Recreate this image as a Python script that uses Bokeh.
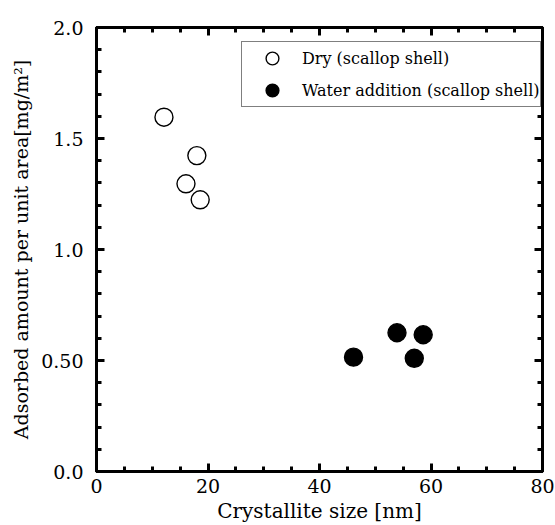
from bokeh.plotting import figure
from bokeh.models import (LinearAxis, SingleIntervalTicker, Range1d, Legend, LegendItem,
                          CustomJSTickFormatter)
from bokeh.embed import file_html
from bokeh.resources import INLINE

# Data
dry_x = [12.1, 18.0, 16.05, 18.6]
dry_y = [1.596, 1.423, 1.296, 1.224]
wet_x = [53.9, 58.6, 46.1, 57.0]
wet_y = [0.625, 0.616, 0.515, 0.510]

x_ticks = [0, 20, 40, 60, 80]
y_ticks = [0.0, 0.5, 1.0, 1.5, 2.0]
y_tick_labels = ["0.0", "0.50", "1.0", "1.5", "2.0"]
series_labels = ["Dry (scallop shell)", "Water addition (scallop shell)"]
x_label = "Crystallite size [nm]"
y_label = "Adsorbed amount per unit area[mg/m\u00b2]"

FONT = "DejaVu Serif"

XMIN, XMAX = float(x_ticks[0]), float(x_ticks[-1])
YMIN, YMAX = float(y_ticks[0]), float(y_ticks[-1])

p = figure(width=555, height=525, x_range=Range1d(XMIN, XMAX), y_range=Range1d(YMIN, YMAX),
           output_backend="svg", toolbar_location=None,
           x_axis_location=None, y_axis_location=None,
           min_border_left=96, min_border_right=13, min_border_top=27, min_border_bottom=54)
p.outline_line_color = "black"
p.outline_line_width = 3
p.xgrid.visible = False
p.ygrid.visible = False
p.background_fill_color = "white"
p.border_fill_color = "white"


def style_axis(ax, labelled):
    ax.axis_line_width = 3
    ax.axis_line_color = "black"
    ax.major_tick_in = 8
    ax.major_tick_out = 0
    ax.minor_tick_in = 5
    ax.minor_tick_out = 0
    ax.major_tick_line_width = 3
    ax.minor_tick_line_width = 3
    ax.major_tick_line_color = "black"
    ax.minor_tick_line_color = "black"
    if labelled:
        ax.major_label_text_font = FONT
        ax.major_label_text_font_size = "19px"
        ax.major_label_text_color = "black"
        ax.axis_label_text_font = FONT
        ax.axis_label_text_font_size = "20px"
        ax.axis_label_text_font_style = "normal"
        ax.axis_label_text_color = "black"
    else:
        ax.formatter = CustomJSTickFormatter(code="return ''")
        ax.major_label_standoff = 0


def x_ticker():
    return SingleIntervalTicker(interval=x_ticks[1] - x_ticks[0], num_minor_ticks=4)


def y_ticker():
    return SingleIntervalTicker(interval=y_ticks[1] - y_ticks[0], num_minor_ticks=5)


xb = LinearAxis(ticker=x_ticker(), axis_label=x_label)
style_axis(xb, True)
xb.major_label_standoff = 7
xb.axis_label_standoff = 3
p.add_layout(xb, "below")

yl = LinearAxis(ticker=y_ticker(), axis_label=y_label)
style_axis(yl, True)
yl.axis_label_text_font_size = "19px"
yl.major_label_standoff = 13
yl.axis_label_standoff = 6
yl.major_label_overrides = {float(t): s for t, s in zip(y_ticks, y_tick_labels)}
p.add_layout(yl, "left")

xt = LinearAxis(ticker=x_ticker())
style_axis(xt, False)
p.add_layout(xt, "above")

yr = LinearAxis(ticker=y_ticker())
style_axis(yr, False)
p.add_layout(yr, "right")

r_dry = p.scatter(dry_x, dry_y, marker="circle", size=18, fill_color="white",
                  line_color="black", line_width=1.4)
r_wet = p.scatter(wet_x, wet_y, marker="circle", size=18, fill_color="black",
                  line_color="black", line_width=1.4)

legend = Legend(items=[LegendItem(label=series_labels[0], renderers=[r_dry]),
                       LegendItem(label=series_labels[1], renderers=[r_wet])],
                location=(145, 364))
legend.padding = 0
legend.margin = 0
legend.glyph_width = 60
legend.glyph_height = 32
legend.spacing = 0
legend.label_standoff = 0
legend.label_text_font = FONT
legend.label_text_font_size = "16px"
legend.label_text_color = "black"
legend.border_line_color = "black"
legend.border_line_width = 1.5
legend.background_fill_color = "white"
legend.background_fill_alpha = 1.0
p.add_layout(legend, "center")

open("out.html", "w").write(file_html(p, INLINE))
